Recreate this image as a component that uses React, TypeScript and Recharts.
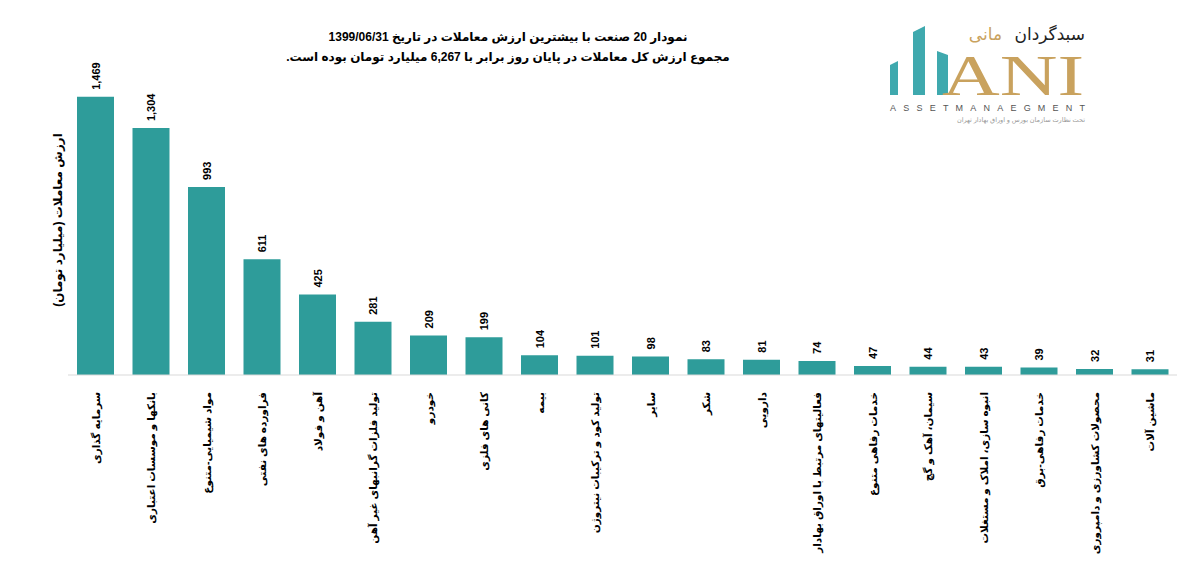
import React from 'react';
import { BarChart, Bar, XAxis, YAxis, LabelList } from 'recharts';

const industries = [
  'سرمایه گذاری',
  'بانکها و موسسات اعتباری',
  'مواد شیمیایی-متنوع',
  'فراورده های نفتی',
  'آهن و فولاد',
  'تولید فلزات گرانبهای غیر آهن',
  'خودرو',
  'کانی های فلزی',
  'بیمه',
  'تولید کود و ترکیبات نیتروژن',
  'سایر',
  'شکر',
  'دارویی',
  'فعالیتهای مرتبط با اوراق بهادار',
  'خدمات رفاهی متنوع',
  'سیمان، آهک و گچ',
  'انبوه سازی، املاک و مستغلات',
  'خدمات رفاهی-برق',
  'محصولات کشاورزی و دامپروری',
  'ماشین آلات',
];

const tradeValues = [1469, 1304, 993, 611, 425, 281, 209, 199, 104, 101, 98, 83, 81, 74, 47, 44, 43, 39, 32, 31];

const titleLines = [
  'نمودار  20 صنعت با بیشترین ارزش معاملات در تاریخ 1399/06/31',
  'مجموع ارزش  کل معاملات در پایان روز برابر با 6,267 میلیارد تومان بوده است.',
];

const yAxisTitle = 'ارزش معاملات (میلیارد تومان)';

const data = industries.map((name, i) => ({ name, value: tradeValues[i] }));

const FONT = "Arial, 'Liberation Sans', 'DejaVu Sans', sans-serif";
const TEAL = '#2E9C9A';

const CategoryTick = (props: any) => {
  const { x, y, payload } = props;
  return (
    <text
      x={0}
      y={0}
      transform={`translate(${x + 4},${y + 9}) rotate(-90)`}
      textAnchor="end"
      fontFamily={FONT}
      fontWeight="bold"
      fontSize={10.5}
      fill="#000"
    >
      {payload.value}
    </text>
  );
};

const ValueLabel = (props: any) => {
  const { x, y, width, value } = props;
  const cx = x + width / 2 + 4;
  const cy = y - 7;
  return (
    <text
      x={0}
      y={0}
      transform={`translate(${cx},${cy}) rotate(-90)`}
      textAnchor="start"
      fontFamily={FONT}
      fontWeight="bold"
      fontSize={11}
      fill="#000"
    >
      {Number(value).toLocaleString('en-US')}
    </text>
  );
};

const Logo = () => (
  <svg width={210} height={110} style={{ position: 'absolute', left: 880, top: 18 }}>
    {/* teal bars */}
    <polygon points="10,47 18,43 18,77 10,77" fill="#3FA9AE" />
    <polygon points="33,14 45,8 45,77 33,77" fill="#3FA9AE" />
    <polygon points="57,33 68,37 68,77 57,77" fill="#3FA9AE" />
    <text
      x={62}
      y={77}
      fontFamily="'Liberation Serif', 'DejaVu Serif', serif"
      fontSize={56}
      fill="#C9A25E"
      textLength={142}
      lengthAdjust="spacingAndGlyphs"
    >
      ANI
    </text>
    <text x={205} y={22} fontFamily={FONT} fontSize={17} fill="#222" textAnchor="end">
      سبدگردان
    </text>
    <text x={122} y={22} fontFamily={FONT} fontSize={17} fill="#C9A25E" textAnchor="end">
      مانی
    </text>
    <text x={10} y={93} fontFamily={FONT} fontSize={9} fill="#555" textLength={195} lengthAdjust="spacing">
      ASSETMANAEGMENT
    </text>
    <text x={205} y={104} fontFamily={FONT} fontSize={6.5} fill="#999" textAnchor="end">
      تحت نظارت سازمان بورس و اوراق بهادار تهران
    </text>
  </svg>
);

export default function App() {
  return (
    <div style={{ position: 'absolute', left: 0, top: 0, width: 1177, height: 579, overflow: 'hidden', background: '#fff' }}>
      <div style={{ position: 'absolute', left: 258, top: 27, width: 500, textAlign: 'center', direction: 'rtl', fontFamily: FONT, fontWeight: 'bold', fontSize: 12, lineHeight: '20px', color: '#000' }}>
        <div>{titleLines[0]}</div>
        <div>{titleLines[1]}</div>
      </div>
      <Logo />
      <svg width={30} height={300} style={{ position: 'absolute', left: 42, top: 70 }}>
        <text
          x={0}
          y={0}
          transform="translate(20,150) rotate(-90)"
          textAnchor="middle"
          fontFamily={FONT}
          fontWeight="bold"
          fontSize={12}
          fill="#000"
        >
          {yAxisTitle}
        </text>
      </svg>
      <div style={{ position: 'absolute', left: 0, top: 0 }}>
        <BarChart width={1180} height={579} data={data} margin={{ top: 72, right: 2, bottom: 4, left: 68 }}>
          <XAxis
            dataKey="name"
            interval={0}
            height={200}
            tickLine={false}
            axisLine={{ stroke: '#d9d9d9', strokeWidth: 1 }}
            tick={<CategoryTick />}
          />
          <YAxis hide domain={[0, 1600]} />
          <Bar dataKey="value" fill={TEAL} barSize={37} isAnimationActive={false}>
            <LabelList dataKey="value" content={<ValueLabel />} />
          </Bar>
        </BarChart>
      </div>
    </div>
  );
}
